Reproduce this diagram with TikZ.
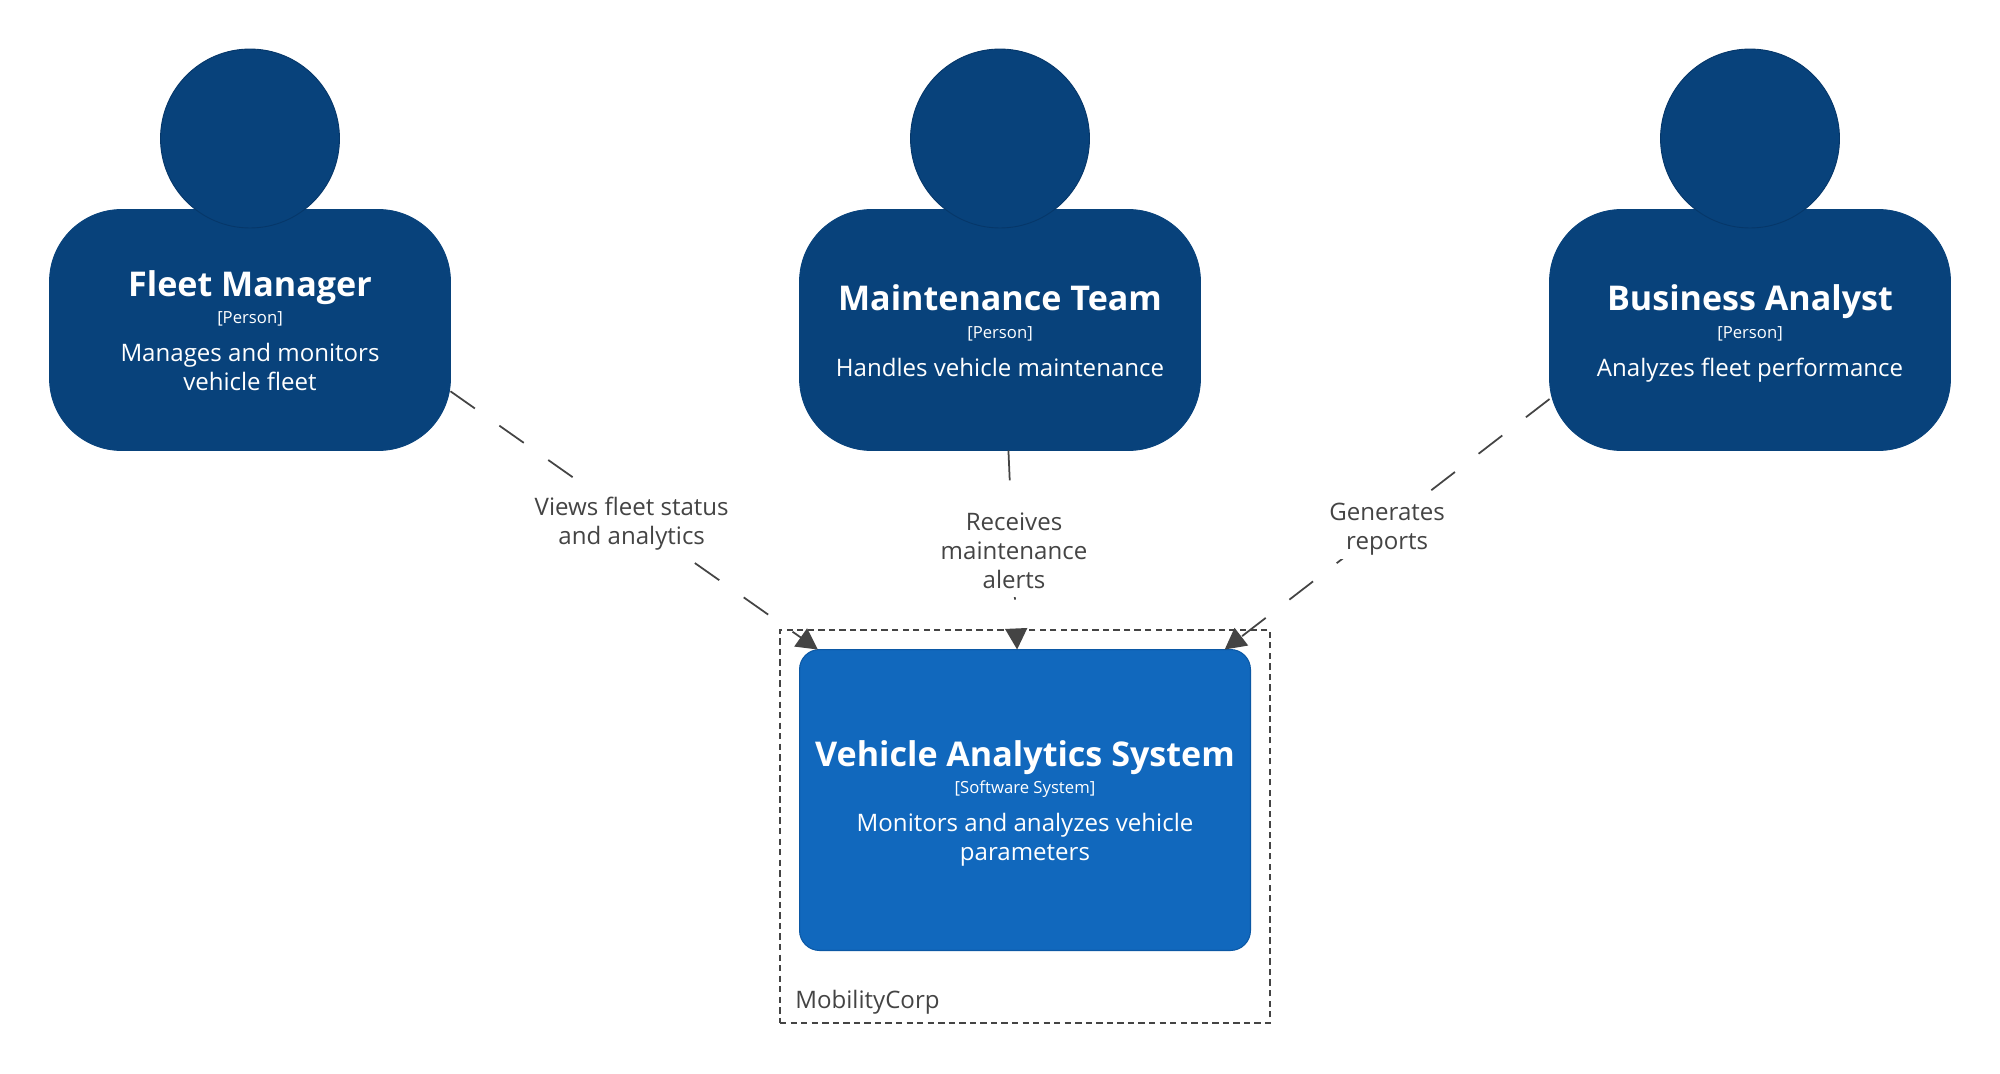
\documentclass[tikz,border=0pt]{standalone}
\usepackage{fontspec}
\setmainfont{Open Sans}
\usetikzlibrary{arrows.meta}
\definecolor{personblue}{RGB}{8, 66, 123}
\definecolor{personedge}{RGB}{6, 55, 105}
\definecolor{systemblue}{RGB}{17, 104, 189}
\definecolor{systemedge}{RGB}{11, 88, 165}
\definecolor{relgray}{RGB}{68, 68, 68}
\newcommand{\nametext}[1]{{\fontsize{19.4pt}{23pt}\selectfont\bfseries\strut\rule{0pt}{20.3pt}#1}}
\newcommand{\typetext}[1]{{\fontsize{9.5pt}{12pt}\selectfont #1}}
\tikzset{
  personbody/.style = {draw = personblue, fill = personblue, line width = 0.5 pt, rounded corners = 1.44cm,
    minimum width = 8.02cm, minimum height = 4.82cm, text = white, align = center, outer sep = 0, inner sep = 0,
    font = \fontsize{13.7pt}{16.5pt}\selectfont},
  personhead/.style = {circle, draw = personedge, fill = personblue, line width = 0.5 pt, minimum size = 3.58cm, inner sep = 0},
  systembox/.style = {draw = systemedge, fill = systemblue, line width = 0.6 pt, rounded corners = 0.4cm,
    minimum width = 9.02cm, minimum height = 6.02cm, text = white, align = center, outer sep = 0, inner sep = 0,
    font = \fontsize{13.7pt}{16.5pt}\selectfont},
  boundarybox/.style = {draw = relgray, line width = 1.1 pt, dash pattern = on 3.6pt off 2.4pt,
    minimum width = 9.8cm, minimum height = 7.86cm, inner sep = 0},
  relation/.style = {draw = relgray, line width = 1 pt, dash pattern = on 17pt off 17pt,
    -{Triangle[length = 12pt, width = 12.5pt, fill = relgray]}},
  rellabel/.style = {midway, fill = white, text = relgray, align = center, inner sep = 0,
    font = \fontsize{13.7pt}{16.5pt}\selectfont},
}
\begin{document}
\begin{tikzpicture}[x = 0.02cm, y = -0.02cm]
\useasboundingbox (0,0) rectangle (2000,1074);
% people
\node[personbody] (fleet) at (250,330) {\nametext{Fleet Manager}\\[-0.8pt] \typetext{[Person]}\\[5.2pt] Manages and monitors\\ vehicle fleet\strut};
\node[personbody] (maintenance) at (1000,330) {\nametext{Maintenance Team}\\[-0.8pt] \typetext{[Person]}\\[5.2pt] Handles vehicle maintenance\strut};
\node[personbody] (analyst) at (1750,330) {\nametext{Business Analyst}\\[-0.8pt] \typetext{[Person]}\\[5.2pt] Analyzes fleet performance\strut};
\node[personhead] (fleethead) at (250,138.5) {};
\node[personhead] (maintenancehead) at (1000,138.5) {};
\node[personhead] (analysthead) at (1750,138.5) {};
% system inside its boundary
\node[boundarybox] (corp) at (1025,826.5) {};
\node[systembox] (system) at (1025,800) {\nametext{Vehicle Analytics System}\\[-0.8pt] \typetext{[Software System]}\\[5.2pt] Monitors and analyzes vehicle\\ parameters\strut};
\node[anchor = base west, text = relgray, inner sep = 0, font = \fontsize{13.7pt}{16.5pt}\selectfont] (corpname) at (795,1008) {MobilityCorp};
% relations
\draw[relation] (fleet.-17.2) -- node[rellabel, xshift = -1.4pt, yshift = -2.2pt, inner ysep = 2pt] (views) {\strut Views fleet status\\ and analytics\strut} (system.144.8);
\draw[relation] (maintenance.-86.2) -- node[rellabel, xshift = 0.7pt, yshift = -2.2pt] (receives) {\strut Receives\\ maintenance\\ alerts\strut} (system.93.2);
\draw[relation] (analyst.199.9) -- node[rellabel, yshift = -3pt] (generates) {\strut Generates\\ reports\strut} (system.37.3);
\end{tikzpicture}
\end{document}
